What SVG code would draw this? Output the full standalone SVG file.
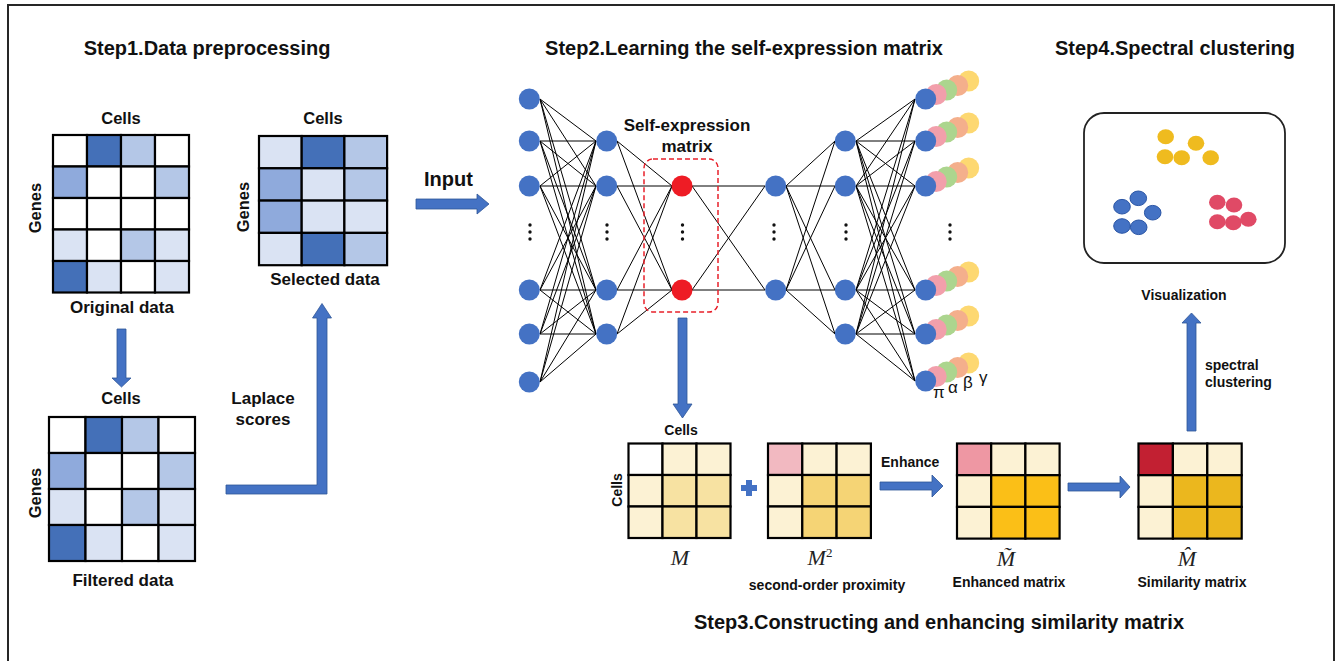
<svg xmlns="http://www.w3.org/2000/svg" width="1339" height="661" viewBox="0 0 1339 661">
<style>
.t{font-family:"Liberation Sans",Arial,sans-serif;font-weight:bold;fill:#111;}
.title{font-size:20px;text-anchor:middle;}
.lbl{font-size:16.5px;text-anchor:middle;}
.lbl17{font-size:17px;text-anchor:middle;}
.sm{font-size:14px;text-anchor:middle;}
.st{font-size:14px;text-anchor:start;}
.math{font-family:"Liberation Serif","Times New Roman",serif;font-style:italic;font-size:22px;fill:#222;text-anchor:middle;}
.gr{font-family:"Liberation Sans",Arial,sans-serif;font-size:17px;fill:#111;}
.c rect{stroke:#000;stroke-width:2.2;}
.arrow{fill:#4472c4;stroke:#2f5597;stroke-width:0.8;}
.net{stroke:#000;stroke-width:1;fill:none;}
.bn{fill:#4472c4;}
.rn{fill:#ee1c25;}
.dot{fill:#111;}
</style>
<defs>
<g id="stack">
<circle cx="43" cy="-18" r="10.5" fill="#fdd871"/>
<circle cx="32" cy="-13.5" r="10.5" fill="#f4af8c"/>
<circle cx="21" cy="-9" r="10.5" fill="#acd58e"/>
<circle cx="10.5" cy="-4.5" r="10.5" fill="#f29fab"/>
<circle cx="0" cy="0" r="10.5" fill="#4472c4"/>
</g>
<g id="vdots">
<circle cx="0" cy="-7" r="1.7"/>
<circle cx="0" cy="0" r="1.7"/>
<circle cx="0" cy="7" r="1.7"/>
</g>
</defs>
<rect x="0" y="0" width="1339" height="661" fill="#fff"/>
<rect id="frame" x="8" y="5" width="1326" height="700" fill="none" stroke="#262626" stroke-width="2"/>

<g id="titles">
<text class="t title" x="207" y="55">Step1.Data preprocessing</text>
<text class="t title" x="744" y="55">Step2.Learning the self-expression matrix</text>
<text class="t title" x="1175" y="55">Step4.Spectral clustering</text>
<text class="t title" x="939" y="629">Step3.Constructing and enhancing similarity matrix</text>
</g>

<g id="original-data">
<text class="t lbl" x="121" y="124">Cells</text>
<text class="t lbl" transform="translate(40.5,208) rotate(-90)">Genes</text>
<g class="c">
<rect x="53" y="135" width="34" height="31.5" fill="#fff"/>
<rect x="87" y="135" width="34" height="31.5" fill="#4470b8"/>
<rect x="121" y="135" width="34" height="31.5" fill="#b4c7e7"/>
<rect x="155" y="135" width="34" height="31.5" fill="#fff"/>
<rect x="53" y="166.5" width="34" height="31.5" fill="#8faadc"/>
<rect x="87" y="166.5" width="34" height="31.5" fill="#fff"/>
<rect x="121" y="166.5" width="34" height="31.5" fill="#fff"/>
<rect x="155" y="166.5" width="34" height="31.5" fill="#b4c7e7"/>
<rect x="53" y="198" width="34" height="31.5" fill="#fff"/>
<rect x="87" y="198" width="34" height="31.5" fill="#fff"/>
<rect x="121" y="198" width="34" height="31.5" fill="#fff"/>
<rect x="155" y="198" width="34" height="31.5" fill="#fff"/>
<rect x="53" y="229.5" width="34" height="31.5" fill="#dae3f3"/>
<rect x="87" y="229.5" width="34" height="31.5" fill="#fff"/>
<rect x="121" y="229.5" width="34" height="31.5" fill="#b4c7e7"/>
<rect x="155" y="229.5" width="34" height="31.5" fill="#dae3f3"/>
<rect x="53" y="261" width="34" height="31.5" fill="#4470b8"/>
<rect x="87" y="261" width="34" height="31.5" fill="#dae3f3"/>
<rect x="121" y="261" width="34" height="31.5" fill="#fff"/>
<rect x="155" y="261" width="34" height="31.5" fill="#dae3f3"/>
</g>
<text class="t lbl17" x="122" y="313">Original data</text>
</g>

<g id="selected-data">
<text class="t lbl" x="323" y="124">Cells</text>
<text class="t lbl" transform="translate(249,207) rotate(-90)">Genes</text>
<g class="c">
<rect x="259" y="136" width="42.7" height="32.3" fill="#dae3f3"/>
<rect x="301.7" y="136" width="42.7" height="32.3" fill="#4470b8"/>
<rect x="344.4" y="136" width="42.7" height="32.3" fill="#b4c7e7"/>
<rect x="259" y="168.3" width="42.7" height="32.3" fill="#8faadc"/>
<rect x="301.7" y="168.3" width="42.7" height="32.3" fill="#dae3f3"/>
<rect x="344.4" y="168.3" width="42.7" height="32.3" fill="#b4c7e7"/>
<rect x="259" y="200.6" width="42.7" height="32.3" fill="#8faadc"/>
<rect x="301.7" y="200.6" width="42.7" height="32.3" fill="#dae3f3"/>
<rect x="344.4" y="200.6" width="42.7" height="32.3" fill="#dae3f3"/>
<rect x="259" y="232.9" width="42.7" height="32.3" fill="#dae3f3"/>
<rect x="301.7" y="232.9" width="42.7" height="32.3" fill="#4470b8"/>
<rect x="344.4" y="232.9" width="42.7" height="32.3" fill="#b4c7e7"/>
</g>
<text class="t lbl17" x="325" y="285">Selected data</text>
</g>

<g id="filtered-data">
<text class="t lbl" x="121" y="404">Cells</text>
<text class="t lbl" transform="translate(40.5,493) rotate(-90)">Genes</text>
<g class="c">
<rect x="49" y="417" width="36.5" height="36" fill="#fff"/>
<rect x="85.5" y="417" width="36.5" height="36" fill="#4470b8"/>
<rect x="122" y="417" width="36.5" height="36" fill="#b4c7e7"/>
<rect x="158.5" y="417" width="36.5" height="36" fill="#fff"/>
<rect x="49" y="453" width="36.5" height="36" fill="#8faadc"/>
<rect x="85.5" y="453" width="36.5" height="36" fill="#fff"/>
<rect x="122" y="453" width="36.5" height="36" fill="#fff"/>
<rect x="158.5" y="453" width="36.5" height="36" fill="#b4c7e7"/>
<rect x="49" y="489" width="36.5" height="36" fill="#dae3f3"/>
<rect x="85.5" y="489" width="36.5" height="36" fill="#fff"/>
<rect x="122" y="489" width="36.5" height="36" fill="#b4c7e7"/>
<rect x="158.5" y="489" width="36.5" height="36" fill="#dae3f3"/>
<rect x="49" y="525" width="36.5" height="36" fill="#4470b8"/>
<rect x="85.5" y="525" width="36.5" height="36" fill="#dae3f3"/>
<rect x="122" y="525" width="36.5" height="36" fill="#fff"/>
<rect x="158.5" y="525" width="36.5" height="36" fill="#dae3f3"/>
</g>
<text class="t lbl17" x="123" y="586">Filtered data</text>
</g>

<g id="network-edges">
<path class="net" d="M540 99L596 141M540 99L596 186M540 99L596 290M540 99L596 334M540 141L596 141M540 141L596 186M540 141L596 290M540 141L596 334M540 186L596 141M540 186L596 186M540 186L596 290M540 186L596 334M540 290L596 141M540 290L596 186M540 290L596 290M540 290L596 334M540 334L596 141M540 334L596 186M540 334L596 290M540 334L596 334M540 382L596 141M540 382L596 186M540 382L596 290M540 382L596 334"/>
<path class="net" d="M617 141L672 186M617 141L672 290M617 186L672 186M617 186L672 290M617 290L672 186M617 290L672 290M617 334L672 186M617 334L672 290"/>
<path class="net" d="M692 186L765 186M692 186L765 290M692 290L765 186M692 290L765 290"/>
<path class="net" d="M786 186L835 141M786 186L835 186M786 186L835 290M786 186L835 334M786 290L835 141M786 290L835 186M786 290L835 290M786 290L835 334"/>
<path class="net" d="M856 141L915 99M856 141L915 141M856 141L915 186M856 141L915 290M856 141L915 334M856 141L915 381M856 186L915 99M856 186L915 141M856 186L915 186M856 186L915 290M856 186L915 334M856 186L915 381M856 290L915 99M856 290L915 141M856 290L915 186M856 290L915 290M856 290L915 334M856 290L915 381M856 334L915 99M856 334L915 141M856 334L915 186M856 334L915 290M856 334L915 334M856 334L915 381"/>
</g>

<g id="layer1">
<circle class="bn" cx="529.3" cy="99" r="10.5"/>
<circle class="bn" cx="529.3" cy="141" r="10.5"/>
<circle class="bn" cx="529.3" cy="186" r="10.5"/>
<circle class="bn" cx="529.3" cy="290" r="10.5"/>
<circle class="bn" cx="529.3" cy="334" r="10.5"/>
<circle class="bn" cx="529.3" cy="382" r="10.5"/>
<use href="#vdots" class="dot" x="530" y="232"/>
</g>
<g id="layer2">
<circle class="bn" cx="606.7" cy="141" r="10.5"/>
<circle class="bn" cx="606.7" cy="186" r="10.5"/>
<circle class="bn" cx="606.7" cy="290" r="10.5"/>
<circle class="bn" cx="606.7" cy="334" r="10.5"/>
<use href="#vdots" class="dot" x="607" y="232"/>
</g>
<g id="self-expression-layer">
<text class="t lbl17" x="687" y="131">Self-expression</text>
<text class="t lbl17" x="687" y="152">matrix</text>
<rect x="644" y="159" width="74" height="153" rx="9" fill="none" stroke="#e8202a" stroke-width="1.5" stroke-dasharray="5,3"/>
<circle class="rn" cx="682" cy="186" r="10.5"/>
<circle class="rn" cx="682" cy="290" r="10.5"/>
<use href="#vdots" class="dot" x="682.5" y="232"/>
</g>
<g id="layer4">
<circle class="bn" cx="775.7" cy="186" r="10.5"/>
<circle class="bn" cx="775.7" cy="290" r="10.5"/>
<use href="#vdots" class="dot" x="774" y="232"/>
</g>
<g id="layer5">
<circle class="bn" cx="845.3" cy="141" r="10.5"/>
<circle class="bn" cx="845.3" cy="186" r="10.5"/>
<circle class="bn" cx="845.3" cy="290" r="10.5"/>
<circle class="bn" cx="845.3" cy="334" r="10.5"/>
<use href="#vdots" class="dot" x="846" y="232"/>
</g>
<g id="output-layer">
<use href="#stack" x="925.7" y="99"/>
<use href="#stack" x="925.7" y="141"/>
<use href="#stack" x="925.7" y="186"/>
<use href="#stack" x="925.7" y="290"/>
<use href="#stack" x="925.7" y="334"/>
<use href="#stack" x="925.7" y="381"/>
<use href="#vdots" class="dot" x="950" y="232"/>
<text class="gr" x="933" y="398">π</text>
<text class="gr" x="948" y="393">α</text>
<text class="gr" x="963" y="388">β</text>
<text class="gr" x="979" y="383">γ</text>
</g>

<g id="matrix-M">
<text class="t sm" x="681" y="435">Cells</text>
<text class="t sm" transform="translate(621.5,490) rotate(-90)">Cells</text>
<g class="c">
<rect x="628.5" y="443.5" width="34" height="31.5" fill="#fff"/>
<rect x="662.5" y="443.5" width="34" height="31.5" fill="#fcf2d4"/>
<rect x="696.5" y="443.5" width="34" height="31.5" fill="#fcf2d4"/>
<rect x="628.5" y="475" width="34" height="31.5" fill="#fcf2d4"/>
<rect x="662.5" y="475" width="34" height="31.5" fill="#f7e2a2"/>
<rect x="696.5" y="475" width="34" height="31.5" fill="#f7e2a2"/>
<rect x="628.5" y="506.5" width="34" height="31.5" fill="#fcf2d4"/>
<rect x="662.5" y="506.5" width="34" height="31.5" fill="#f7e2a2"/>
<rect x="696.5" y="506.5" width="34" height="31.5" fill="#f7e2a2"/>
</g>
<text class="math" x="680" y="565">M</text>
</g>

<g id="plus">
<rect x="741" y="485" width="16" height="6" fill="#4472c4"/>
<rect x="746" y="480" width="6" height="16" fill="#4472c4"/>
</g>

<g id="matrix-M2">
<g class="c">
<rect x="768" y="443.5" width="34.3" height="31.5" fill="#f2b9c1"/>
<rect x="802.3" y="443.5" width="34.3" height="31.5" fill="#fcf2d4"/>
<rect x="836.6" y="443.5" width="34.3" height="31.5" fill="#fcf2d4"/>
<rect x="768" y="475" width="34.3" height="31.5" fill="#fcf2d4"/>
<rect x="802.3" y="475" width="34.3" height="31.5" fill="#f5d475"/>
<rect x="836.6" y="475" width="34.3" height="31.5" fill="#f5d475"/>
<rect x="768" y="506.5" width="34.3" height="31.5" fill="#fcf2d4"/>
<rect x="802.3" y="506.5" width="34.3" height="31.5" fill="#f5d475"/>
<rect x="836.6" y="506.5" width="34.3" height="31.5" fill="#f5d475"/>
</g>
<text class="math" x="820" y="565">M<tspan font-size="13" dy="-8" font-style="normal">2</tspan></text>
<text class="t sm" x="827" y="590">second-order proximity</text>
</g>

<g id="matrix-enhanced">
<g class="c">
<rect x="957" y="443.5" width="34.2" height="31.7" fill="#ee97a3"/>
<rect x="991.2" y="443.5" width="34.2" height="31.7" fill="#fcf2d4"/>
<rect x="1025.4" y="443.5" width="34.2" height="31.7" fill="#fcf2d4"/>
<rect x="957" y="475.2" width="34.2" height="31.7" fill="#fcf2d4"/>
<rect x="991.2" y="475.2" width="34.2" height="31.7" fill="#fbbf17"/>
<rect x="1025.4" y="475.2" width="34.2" height="31.7" fill="#fbbf17"/>
<rect x="957" y="506.9" width="34.2" height="31.7" fill="#fcf2d4"/>
<rect x="991.2" y="506.9" width="34.2" height="31.7" fill="#fbbf17"/>
<rect x="1025.4" y="506.9" width="34.2" height="31.7" fill="#fbbf17"/>
</g>
<text class="math" x="1006" y="566">M&#771;</text>
<text class="t sm" x="1009" y="587">Enhanced matrix</text>
</g>

<g id="matrix-similarity">
<g class="c">
<rect x="1138.5" y="443.5" width="34.4" height="31.7" fill="#c22032"/>
<rect x="1172.9" y="443.5" width="34.4" height="31.7" fill="#fcf2d4"/>
<rect x="1207.3" y="443.5" width="34.4" height="31.7" fill="#fcf2d4"/>
<rect x="1138.5" y="475.2" width="34.4" height="31.7" fill="#fcf2d4"/>
<rect x="1172.9" y="475.2" width="34.4" height="31.7" fill="#ebb71e"/>
<rect x="1207.3" y="475.2" width="34.4" height="31.7" fill="#ebb71e"/>
<rect x="1138.5" y="506.9" width="34.4" height="31.7" fill="#fcf2d4"/>
<rect x="1172.9" y="506.9" width="34.4" height="31.7" fill="#ebb71e"/>
<rect x="1207.3" y="506.9" width="34.4" height="31.7" fill="#ebb71e"/>
</g>
<text class="math" x="1187" y="566">M&#770;</text>
<text class="t sm" x="1192" y="587">Similarity matrix</text>
</g>

<g id="clusters">
<rect x="1084" y="113" width="201" height="150" rx="20" fill="#fff" stroke="#222" stroke-width="1.8"/>
<g fill="#efbb1f">
<ellipse cx="1165.7" cy="136.7" rx="8.3" ry="7.5"/>
<ellipse cx="1196" cy="143.3" rx="8.3" ry="7.5"/>
<ellipse cx="1165" cy="156.7" rx="8.3" ry="7.5"/>
<ellipse cx="1181.7" cy="157.7" rx="8.3" ry="7.5"/>
<ellipse cx="1210.7" cy="157.7" rx="8.3" ry="7.5"/>
</g>
<g fill="#4472c4" stroke="#2a55a5" stroke-width="1">
<ellipse cx="1122" cy="206.7" rx="8.3" ry="7.3"/>
<ellipse cx="1138.3" cy="198.3" rx="8.3" ry="7.3"/>
<ellipse cx="1152.7" cy="212.7" rx="8.3" ry="7.3"/>
<ellipse cx="1122" cy="226" rx="8.3" ry="7.3"/>
<ellipse cx="1138.7" cy="227.3" rx="8.3" ry="7.3"/>
</g>
<g fill="#e04a66">
<ellipse cx="1217.3" cy="202.3" rx="8.3" ry="7.5"/>
<ellipse cx="1234" cy="205" rx="8.3" ry="7.5"/>
<ellipse cx="1217.3" cy="221.7" rx="8.3" ry="7.5"/>
<ellipse cx="1233.3" cy="222.7" rx="8.3" ry="7.5"/>
<ellipse cx="1248.3" cy="219.3" rx="8.3" ry="7.5"/>
</g>
</g>

<g id="connectors">
<polygon class="arrow" points="117,329 126,329 126,378 131,378 121.5,387 112,378 117,378"/>
<polygon class="arrow" points="226,485 317,485 317,318 312.5,318 322,303.5 331.5,318 327,318 327,494 226,494"/>
<polygon class="arrow" points="416,199 477,199 477,194 489,204 477,214 477,209 416,209"/>
<polygon class="arrow" points="678,318 687,318 687,404 692,404 682.5,418 673,404 678,404"/>
<polygon class="arrow" points="880,482 932,482 932,475 943,486 932,497 932,490 880,490"/>
<polygon class="arrow" points="1068,483 1120,483 1120,476 1130,487 1120,498 1120,491 1068,491"/>
<polygon class="arrow" points="1187,431 1187,323 1182,323 1191.5,313 1201,323 1196,323 1196,431"/>
</g>

<g id="labels">
<text class="t lbl17" x="263" y="404">Laplace</text>
<text class="t lbl17" x="263" y="425">scores</text>
<text class="t" x="424" y="186" font-size="20">Input</text>
<text class="t st" x="881" y="467">Enhance</text>
<text class="t sm" x="1184" y="300">Visualization</text>
<text class="t st" x="1205" y="370">spectral</text>
<text class="t st" x="1205" y="387">clustering</text>
</g>
</svg>
